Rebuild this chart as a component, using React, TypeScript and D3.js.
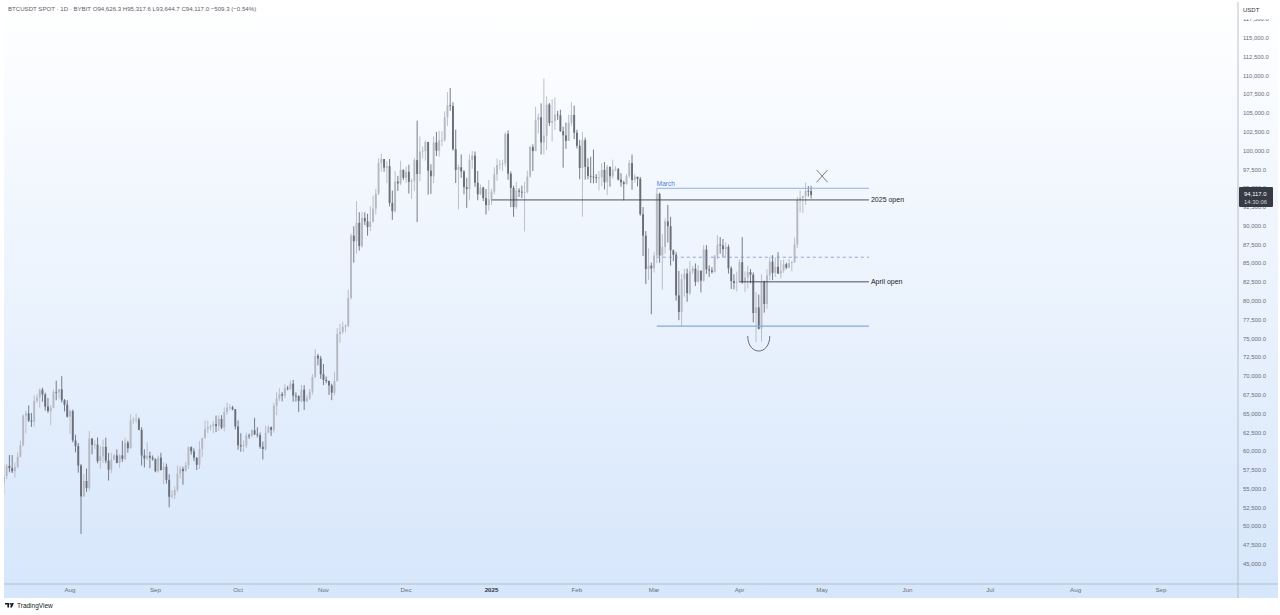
import React from "react";
import * as d3 from "d3";

// ---- DATA (prices in thousands USDT), each row: [high, low, close]; open = previous close ----
const firstOpen = 55.85;
const jul24 = [[58.25,54.3,56.7],[58.3,56.3,58.05],[59.5,57.2,57.75],[59.5,57.1,57.35],[58.5,56.5,57.9],[59.85,57.75,59.25],[61.4,59.2,60.8],[64.9,60.65,64.75],[65.4,62.4,65.05],[66.1,63.9,64.1],[65.1,63.25,63.95],[67.45,63.3,66.7],[67.6,66.45,67.15],[68.35,65.8,68.2],[68.45,66.6,67.55],[67.8,65.4,65.95],[67.1,65.1,65.35],[66.15,63.45,65.8],[68.2,65.75,67.9],[69.4,66.8,67.85],[68.3,67.05,68.25],[70.0,66.5,66.8],[66.95,65.3,66.2],[66.8,64.5,64.6]];
const aug24 = [[65.6,62.3,65.35],[65.55,61.2,61.45],[62.2,59.85,60.7],[61.1,57.15,58.1],[58.3,49.0,54.0],[57.0,53.95,56.05],[57.7,54.6,55.1],[62.7,54.75,61.7],[61.75,59.6,60.85],[61.45,60.3,60.9],[61.85,58.4,58.7],[60.7,57.65,59.35],[61.55,58.45,60.6],[61.8,58.4,58.75],[59.8,56.1,57.55],[59.8,57.1,58.9],[59.65,58.8,59.45],[60.25,58.4,58.45],[59.6,57.8,59.45],[61.4,58.6,59.0],[61.8,58.8,61.15],[61.4,59.8,60.4],[64.95,60.35,64.1],[64.5,63.6,64.2],[65.0,63.8,64.25],[64.5,62.8,62.85],[63.2,58.1,59.45],[60.25,57.85,59.05],[61.2,58.8,59.4],[59.95,57.75,59.15],[59.45,58.75,58.95]];
const sep24 = [[59.05,57.2,57.35],[59.45,57.15,59.15],[59.8,57.45,57.5],[58.5,55.6,57.95],[58.35,55.7,56.2],[56.95,52.55,53.95],[54.85,53.75,54.15],[55.3,53.65,54.85],[58.1,54.6,57.05],[58.05,56.4,57.65],[57.95,55.55,57.35],[58.6,57.35,58.15],[60.65,57.65,60.55],[60.65,59.55,60.0],[60.4,58.7,59.15],[59.2,57.5,58.2],[61.35,57.65,60.3],[61.8,59.2,61.75],[64.1,61.7,62.95],[64.05,62.4,63.2],[63.55,62.75,63.35],[64.0,62.4,63.6],[64.75,62.55,63.35],[64.8,62.7,64.3],[64.8,62.95,63.15],[65.85,62.65,65.2],[66.5,64.85,65.8],[66.25,65.45,65.85],[66.05,65.45,65.6],[65.6,62.9,63.3]];
const oct24 = [[64.1,60.2,60.8],[62.4,59.95,60.65],[61.45,59.9,60.75],[62.5,60.45,62.1],[62.35,61.65,62.05],[62.95,61.85,62.8],[64.45,62.15,62.25],[63.2,61.85,62.15],[62.5,60.35,60.6],[61.3,58.9,60.3],[63.4,60.05,62.45],[63.45,62.45,63.2],[63.3,62.05,62.85],[66.45,62.45,66.05],[67.9,64.8,67.05],[68.4,66.7,67.6],[67.9,66.65,67.4],[68.95,67.1,68.4],[68.7,68.1,68.35],[69.4,68.1,69.0],[69.5,66.6,67.4],[67.85,66.6,67.35],[67.45,65.25,66.7],[68.85,66.5,68.2],[68.8,65.5,66.65],[67.45,66.55,67.05],[68.3,66.85,67.95],[70.25,67.55,69.9],[73.6,69.75,72.7],[72.95,71.45,72.35],[72.7,69.65,70.25]];
const nov24 = [[71.6,68.8,69.5],[69.95,69.05,69.35],[69.4,67.5,68.75],[69.0,66.8,67.8],[70.55,67.45,69.35],[76.4,69.3,75.6],[76.95,74.45,75.9],[77.25,75.6,76.55],[76.9,75.85,76.7],[81.5,76.5,80.4],[89.0,80.2,88.7],[89.95,85.1,87.95],[93.3,86.3,90.4],[91.8,86.7,87.3],[91.85,87.1,91.05],[91.8,90.1,90.6],[91.6,88.7,89.85],[92.6,89.3,90.5],[94.0,90.8,92.3],[94.9,91.5,94.3],[99.0,94.1,98.35],[99.6,97.2,98.9],[98.8,97.2,97.75],[98.6,95.7,97.95],[98.9,92.6,93.05],[94.7,90.8,91.95],[97.3,91.8,95.9],[96.65,94.65,95.65],[98.65,95.4,97.45],[97.5,96.1,96.4]];
const dec24 = [[97.9,95.7,97.2],[98.15,94.3,95.85],[96.3,93.6,96.0],[99.05,94.65,98.75],[104.0,90.5,96.9],[101.9,95.95,99.85],[100.55,98.95,99.95],[101.4,98.7,101.15],[101.2,94.15,97.35],[98.2,94.25,96.6],[101.9,95.7,101.1],[102.5,99.3,100.0],[102.65,99.2,101.4],[102.6,100.6,101.4],[105.25,101.2,104.45],[107.8,103.3,106.05],[108.35,105.3,105.95],[106.45,100.0,100.2],[102.8,95.7,97.45],[98.15,92.2,97.8],[99.5,96.4,97.25],[97.4,94.2,95.15],[96.4,92.4,94.9],[99.5,93.4,98.75],[99.95,97.6,99.35],[99.9,95.2,95.75],[97.3,93.4,94.2],[95.5,94.1,95.1],[95.2,93.3,93.7],[94.9,91.5,92.75],[96.1,92.0,93.55]];
const jan25 = [[94.95,92.8,94.55],[97.8,94.2,96.85],[98.95,96.0,98.1],[98.75,97.5,98.2],[98.8,97.3,98.3],[102.45,97.9,102.25],[102.7,96.15,96.95],[97.25,92.5,95.05],[95.35,91.2,92.5],[95.85,92.25,94.7],[95.0,93.85,94.55],[95.35,93.7,94.5],[95.85,89.25,94.5],[97.35,94.3,96.55],[100.7,96.45,100.5],[100.85,97.3,99.95],[105.85,99.95,104.1],[104.95,102.3,104.45],[106.3,99.5,101.1],[109.6,99.5,102.0],[107.25,100.1,106.15],[106.35,103.3,103.7],[106.85,101.25,103.95],[107.1,102.75,104.8],[105.3,104.1,104.7],[105.45,102.5,102.6],[103.2,97.75,102.05],[103.75,100.25,101.3],[104.8,101.3,103.7],[106.45,103.3,104.75],[106.0,101.55,102.4]];
const feb25 = [[102.8,100.3,100.65],[101.45,96.2,97.7],[102.5,91.2,101.4],[101.75,96.15,97.85],[99.0,96.2,96.65],[99.2,95.7,96.55],[100.15,95.65,96.5],[96.9,95.7,96.45],[97.3,94.7,96.45],[98.35,95.3,97.45],[98.5,94.85,95.8],[98.1,94.1,97.85],[97.9,95.2,96.6],[98.8,96.3,97.5],[97.95,97.25,97.55],[97.7,96.05,96.15],[97.0,95.2,95.8],[96.0,93.4,95.55],[96.9,95.5,96.65],[98.75,96.4,98.35],[99.5,94.8,96.1],[96.9,95.75,96.55],[96.5,95.25,96.25],[96.5,91.35,91.55],[92.5,86.0,88.7],[89.3,82.25,84.25],[87.0,82.8,84.7],[85.1,78.25,84.35]];
const mar25 = [[86.55,83.8,86.05],[95.0,85.05,94.25],[94.4,85.1,86.05],[88.9,81.5,87.2],[91.0,86.3,90.6],[92.8,87.8,89.95],[91.2,84.7,86.75],[86.85,85.3,86.15],[86.5,80.05,80.75],[84.0,77.45,78.55],[83.6,76.6,82.9],[84.3,80.6,83.65],[84.3,79.9,81.05],[85.3,80.8,83.95],[84.65,83.6,84.3],[85.0,82.0,82.55],[84.75,82.45,84.05],[84.0,81.15,82.7],[87.45,82.6,86.85],[87.45,83.6,84.2],[84.75,83.2,84.05],[84.5,83.65,83.85],[86.1,83.8,86.05],[88.75,85.55,87.5],[88.5,86.3,87.4],[88.25,85.85,86.9],[87.8,85.85,87.2],[87.5,83.65,84.35],[84.6,81.6,82.65],[83.55,81.55,82.4],[83.9,81.3,82.55]];
const apr25 = [[85.5,82.45,85.15],[88.5,82.3,82.5],[83.95,81.2,83.1],[84.7,81.65,83.85],[84.25,82.35,83.5],[83.8,77.15,78.4],[81.2,74.5,79.15],[80.85,76.2,76.3],[83.55,74.6,82.6],[82.7,78.45,79.6],[84.25,78.95,83.4],[85.9,82.75,85.25],[86.1,82.8,83.75],[85.8,83.2,84.55],[86.5,83.6,83.65],[85.45,83.0,84.05],[85.5,83.75,84.9],[85.1,84.25,84.45],[85.6,84.35,85.05],[85.3,83.95,85.15],[88.45,85.05,87.5],[93.85,87.05,93.45],[94.7,91.8,93.7],[94.0,91.7,93.95],[95.75,92.8,94.65],[95.3,93.9,94.6263],[95.3176,93.6447,94.117]];

const firstDay = new Date(2024, 6, 8);
const yTicks = d3.range(45000, 117501, 2500);
const monthTicks = d3.timeMonth.range(new Date(2024, 7, 1), new Date(2025, 9, 1));

// annotations
const yearOpen = { label: "2025 open", price: 93450, from: new Date(2025, 0, 1), to: new Date(2025, 4, 18) };
const aprilOpen = { label: "April open", price: 82550, from: new Date(2025, 3, 1), to: new Date(2025, 4, 18) };
const marchRange = { label: "March", high: 95000, low: 76650, from: new Date(2025, 2, 2), to: new Date(2025, 4, 18) };
const arcMark = { from: new Date(2025, 3, 4), to: new Date(2025, 3, 12), top: 75350, ctrl: 72680 };
const crossMark = { from: new Date(2025, 3, 29), to: new Date(2025, 4, 3), top: 97450, bottom: 95800 };
const headerText = "BTCUSDT SPOT · 1D · BYBIT  O94,626.3  H95,317.6  L93,644.7  C94,117.0  −509.3 (−0.54%)";
const lastTime = "14:30:06";

const W = 1280, H = 615;
const FONT = "'Liberation Sans', Arial, sans-serif";

export default function App() {
  const rows = [jul24, aug24, sep24, oct24, nov24, dec24, jan25, feb25, mar25, apr25].flat();
  const candles = rows.map((r, i) => ({
    date: d3.timeDay.offset(firstDay, i),
    open: (i === 0 ? firstOpen : rows[i - 1][2]) * 1000,
    high: r[0] * 1000,
    low: r[1] * 1000,
    close: r[2] * 1000,
  }));
  const last = candles[candles.length - 1];

  const x = d3.scaleTime().domain([new Date(2024, 7, 1), new Date(2025, 8, 1)]).range([70, 1161]);
  const y = d3.scaleLinear().domain([45000, 115000]).range([564, 38]);
  const fmt = d3.format(",.1f");
  const axisX = 1238;
  const axisY = 584;
  const bw = 1.9;

  const line = d3.line<[number, number]>();
  const arcPath = `M${x(arcMark.from)},${y(arcMark.top)} C${x(arcMark.from)},${y(arcMark.ctrl)} ${x(arcMark.to)},${y(arcMark.ctrl)} ${x(arcMark.to)},${y(arcMark.top)}`;
  const mid = (marchRange.high + marchRange.low) / 2;

  return (
    <div style={{ position: "absolute", left: 0, top: 0 }}>
      <svg width={W} height={H} style={{ display: "block", fontFamily: FONT }}>
        <defs>
          <linearGradient id="bg" x1="0" y1="0" x2="0" y2="1">
            <stop offset="0" stopColor="#ffffff" />
            <stop offset="1" stopColor="#d6e6fb" />
          </linearGradient>
          <clipPath id="plot">
            <rect x={4} y={2} width={axisX - 4} height={axisY - 2} />
          </clipPath>
          <clipPath id="axisTop">
            <rect x={axisX} y={19} width={W - axisX} height={axisY - 19} />
          </clipPath>
        </defs>
        <rect x={0} y={0} width={W} height={H} fill="#ffffff" />
        <rect x={4} y={2} width={W - 6} height={596} fill="url(#bg)" />

        {/* header */}
        <text x={8} y={11} fontSize={6.1} fill="#5d606b">{headerText}</text>

        <g clipPath="url(#plot)">
          {candles.map((c, i) => {
            const up = c.close >= c.open;
            const col = up ? "#b6b9c2" : "#6a6e79";
            const cx = x(c.date);
            const top = y(Math.max(c.open, c.close));
            const bot = y(Math.min(c.open, c.close));
            return (
              <g key={i}>
                <line x1={cx} x2={cx} y1={y(c.high)} y2={y(c.low)} stroke={col} strokeWidth={0.9} />
                <rect x={cx - bw / 2} y={top} width={bw} height={Math.max(0.8, bot - top)} fill={col} />
              </g>
            );
          })}

          {/* March range */}
          <path d={line([[x(marchRange.from), y(marchRange.high)], [x(marchRange.to), y(marchRange.high)]])!} stroke="#8fb2e3" strokeWidth={1} />
          <path d={line([[x(marchRange.from), y(marchRange.low)], [x(marchRange.to), y(marchRange.low)]])!} stroke="#86a9dc" strokeWidth={1.3} />
          <path d={line([[x(marchRange.from), y(mid)], [x(marchRange.to), y(mid)]])!} stroke="#7d97c2" strokeWidth={0.8} strokeDasharray="3,3" />
          <text x={x(marchRange.from)} y={y(marchRange.high) - 2.5} fontSize={6.5} fill="#4d7fd6">{marchRange.label}</text>

          {/* opens */}
          {[yearOpen, aprilOpen].map((l) => (
            <g key={l.label}>
              <path d={line([[x(l.from), y(l.price)], [x(l.to), y(l.price)]])!} stroke="#3a3d47" strokeWidth={0.9} />
              <text x={x(l.to) + 2} y={y(l.price) + 2.4} fontSize={7} fill="#222">{l.label}</text>
            </g>
          ))}

          {/* marks */}
          <path d={arcPath} fill="none" stroke="#5a5d66" strokeWidth={0.9} />
          <path d={line([[x(crossMark.from), y(crossMark.top)], [x(crossMark.to), y(crossMark.bottom)]])!} stroke="#6e727d" strokeWidth={0.9} />
          <path d={line([[x(crossMark.from), y(crossMark.bottom)], [x(crossMark.to), y(crossMark.top)]])!} stroke="#6e727d" strokeWidth={0.9} />
        </g>

        {/* axes borders */}
        <line x1={4} x2={W - 2} y1={axisY} y2={axisY} stroke="#aab4c2" strokeWidth={0.8} />
        <line x1={axisX} x2={axisX} y1={2} y2={598} stroke="#aab4c2" strokeWidth={0.8} />

        {/* price axis */}
        <text x={axisX + 5} y={12} fontSize={6} fill="#30333c">USDT</text>
        <g clipPath="url(#axisTop)">
          {yTicks.map((t) => (
            <text key={t} x={axisX + 5} y={y(t) + 2} fontSize={5.9} fill="#6a6d78">{fmt(t)}</text>
          ))}
        </g>
        <rect x={axisX + 1} y={y(last.close) - 8} width={34} height={20} rx={1} fill="#363a45" />
        <text x={axisX + 6} y={y(last.close) + 1} fontSize={5.9} fill="#ffffff">{fmt(last.close)}</text>
        <text x={axisX + 6} y={y(last.close) + 9} fontSize={5.9} fill="#d0d3da">{lastTime}</text>

        {/* time axis */}
        {monthTicks.map((m) => (
          <text key={+m} x={x(m)} y={592} fontSize={6.2} textAnchor="middle" fill={m.getMonth() === 0 ? "#30333c" : "#6a6d78"} fontWeight={m.getMonth() === 0 ? "bold" : "normal"}>
            {m.getMonth() === 0 ? d3.timeFormat("%Y")(m) : d3.timeFormat("%b")(m)}
          </text>
        ))}

        {/* TradingView logo */}
        <path d="M5,603 h4 v4.5 h-1.6 v-3 h-2.4 z" fill="#131722" />
        <circle cx={10.3} cy={603.8} r={0.9} fill="#131722" />
        <path d="M11.5,603 h2.4 l-2,4.5 h-1.8 z" fill="#131722" />
        <text x={17} y={607.5} fontSize={6.5} fill="#131722">TradingView</text>
      </svg>
    </div>
  );
}
